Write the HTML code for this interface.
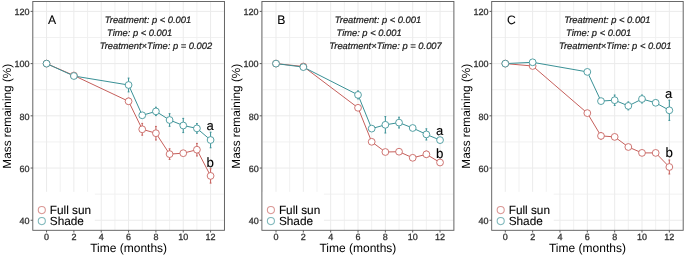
<!DOCTYPE html>
<html><head><meta charset="utf-8"><style>
html,body{margin:0;padding:0;background:#fff;}
body{width:685px;height:256px;overflow:hidden;}
svg{display:block;will-change:transform;}
text{font-family:"Liberation Sans",sans-serif;text-rendering:geometricPrecision;}
</style></head><body>
<svg width="685" height="256" viewBox="0 0 685 256">
<rect x="0" y="0" width="685" height="256" fill="#fff"/>

<line x1="32.88" y1="1.5" x2="32.88" y2="230.3" stroke="#efefef" stroke-width="0.9"/>
<line x1="60.22" y1="1.5" x2="60.22" y2="230.3" stroke="#efefef" stroke-width="0.9"/>
<line x1="87.56" y1="1.5" x2="87.56" y2="230.3" stroke="#efefef" stroke-width="0.9"/>
<line x1="114.9" y1="1.5" x2="114.9" y2="230.3" stroke="#efefef" stroke-width="0.9"/>
<line x1="142.24" y1="1.5" x2="142.24" y2="230.3" stroke="#efefef" stroke-width="0.9"/>
<line x1="169.58" y1="1.5" x2="169.58" y2="230.3" stroke="#efefef" stroke-width="0.9"/>
<line x1="196.92" y1="1.5" x2="196.92" y2="230.3" stroke="#efefef" stroke-width="0.9"/>
<line x1="224.26" y1="1.5" x2="224.26" y2="230.3" stroke="#efefef" stroke-width="0.9"/>
<line x1="32.8" y1="194.15" x2="224.5" y2="194.15" stroke="#efefef" stroke-width="0.9"/>
<line x1="32.8" y1="141.93" x2="224.5" y2="141.93" stroke="#efefef" stroke-width="0.9"/>
<line x1="32.8" y1="89.71" x2="224.5" y2="89.71" stroke="#efefef" stroke-width="0.9"/>
<line x1="32.8" y1="37.49" x2="224.5" y2="37.49" stroke="#efefef" stroke-width="0.9"/>
<line x1="46.55" y1="1.5" x2="46.55" y2="230.3" stroke="#ebebeb" stroke-width="1"/>
<line x1="73.89" y1="1.5" x2="73.89" y2="230.3" stroke="#ebebeb" stroke-width="1"/>
<line x1="101.23" y1="1.5" x2="101.23" y2="230.3" stroke="#ebebeb" stroke-width="1"/>
<line x1="128.57" y1="1.5" x2="128.57" y2="230.3" stroke="#ebebeb" stroke-width="1"/>
<line x1="155.91" y1="1.5" x2="155.91" y2="230.3" stroke="#ebebeb" stroke-width="1"/>
<line x1="183.25" y1="1.5" x2="183.25" y2="230.3" stroke="#ebebeb" stroke-width="1"/>
<line x1="210.59" y1="1.5" x2="210.59" y2="230.3" stroke="#ebebeb" stroke-width="1"/>
<line x1="32.8" y1="220.26" x2="224.5" y2="220.26" stroke="#ebebeb" stroke-width="1"/>
<line x1="32.8" y1="168.04" x2="224.5" y2="168.04" stroke="#ebebeb" stroke-width="1"/>
<line x1="32.8" y1="115.82" x2="224.5" y2="115.82" stroke="#ebebeb" stroke-width="1"/>
<line x1="32.8" y1="63.6" x2="224.5" y2="63.6" stroke="#ebebeb" stroke-width="1"/>
<line x1="32.8" y1="11.38" x2="224.5" y2="11.38" stroke="#ebebeb" stroke-width="1"/>
<rect x="32.8" y="191.8" width="62" height="38.5" fill="#fff"/>
<path d="M46.55,63.6 L73.89,75.5 L128.57,101.3 L142.24,129.3 L155.91,133.2 L169.58,154.1 L183.25,153.2 L196.92,149.7 L210.59,175.9" fill="none" stroke="#c65f5b" stroke-width="1"/>
<path d="M46.55,63.6 L73.89,76 L128.57,85 L142.24,115.3 L155.91,111.4 L169.58,120 L183.25,125.5 L196.92,128.4 L210.59,140" fill="none" stroke="#3a9196" stroke-width="1"/>
<path d="M128.57,98.2V104.4M127.67,98.2H129.47M127.67,104.4H129.47" stroke="#c65f5b" stroke-width="1.0" fill="none"/>
<path d="M142.24,123.4V135.2M141.34,123.4H143.14M141.34,135.2H143.14" stroke="#c65f5b" stroke-width="1.0" fill="none"/>
<path d="M155.91,126.4V140M155.01,126.4H156.81M155.01,140H156.81" stroke="#c65f5b" stroke-width="1.0" fill="none"/>
<path d="M169.58,148.8V159.4M168.68,148.8H170.48M168.68,159.4H170.48" stroke="#c65f5b" stroke-width="1.0" fill="none"/>
<path d="M183.25,152.1V154.3M182.35,152.1H184.15M182.35,154.3H184.15" stroke="#c65f5b" stroke-width="1.0" fill="none"/>
<path d="M196.92,143.4V156M196.02,143.4H197.82M196.02,156H197.82" stroke="#c65f5b" stroke-width="1.0" fill="none"/>
<path d="M210.59,168.7V183.1M209.69,168.7H211.49M209.69,183.1H211.49" stroke="#c65f5b" stroke-width="1.0" fill="none"/>
<path d="M128.57,78.1V91.9M127.67,78.1H129.47M127.67,91.9H129.47" stroke="#3a9196" stroke-width="1.0" fill="none"/>
<path d="M142.24,113.7V116.9M141.34,113.7H143.14M141.34,116.9H143.14" stroke="#3a9196" stroke-width="1.0" fill="none"/>
<path d="M155.91,107.2V115.6M155.01,107.2H156.81M155.01,115.6H156.81" stroke="#3a9196" stroke-width="1.0" fill="none"/>
<path d="M169.58,113.7V126.3M168.68,113.7H170.48M168.68,126.3H170.48" stroke="#3a9196" stroke-width="1.0" fill="none"/>
<path d="M183.25,118.4V132.6M182.35,118.4H184.15M182.35,132.6H184.15" stroke="#3a9196" stroke-width="1.0" fill="none"/>
<path d="M196.92,123.6V133.2M196.02,123.6H197.82M196.02,133.2H197.82" stroke="#3a9196" stroke-width="1.0" fill="none"/>
<path d="M210.59,132.2V147.8M209.69,132.2H211.49M209.69,147.8H211.49" stroke="#3a9196" stroke-width="1.0" fill="none"/>
<circle cx="46.55" cy="63.6" r="3.4" fill="#fff" stroke="#c65f5b" stroke-width="0.85"/>
<circle cx="73.89" cy="75.5" r="3.4" fill="#fff" stroke="#c65f5b" stroke-width="0.85"/>
<circle cx="128.57" cy="101.3" r="3.4" fill="#fff" stroke="#c65f5b" stroke-width="0.85"/>
<circle cx="142.24" cy="129.3" r="3.4" fill="#fff" stroke="#c65f5b" stroke-width="0.85"/>
<circle cx="155.91" cy="133.2" r="3.4" fill="#fff" stroke="#c65f5b" stroke-width="0.85"/>
<circle cx="169.58" cy="154.1" r="3.4" fill="#fff" stroke="#c65f5b" stroke-width="0.85"/>
<circle cx="183.25" cy="153.2" r="3.4" fill="#fff" stroke="#c65f5b" stroke-width="0.85"/>
<circle cx="196.92" cy="149.7" r="3.4" fill="#fff" stroke="#c65f5b" stroke-width="0.85"/>
<circle cx="210.59" cy="175.9" r="3.4" fill="#fff" stroke="#c65f5b" stroke-width="0.85"/>
<circle cx="46.55" cy="63.6" r="3.4" fill="#fff" stroke="#3a9196" stroke-width="0.85"/>
<circle cx="73.89" cy="76" r="3.4" fill="#fff" stroke="#3a9196" stroke-width="0.85"/>
<circle cx="128.57" cy="85" r="3.4" fill="#fff" stroke="#3a9196" stroke-width="0.85"/>
<circle cx="142.24" cy="115.3" r="3.4" fill="#fff" stroke="#3a9196" stroke-width="0.85"/>
<circle cx="155.91" cy="111.4" r="3.4" fill="#fff" stroke="#3a9196" stroke-width="0.85"/>
<circle cx="169.58" cy="120" r="3.4" fill="#fff" stroke="#3a9196" stroke-width="0.85"/>
<circle cx="183.25" cy="125.5" r="3.4" fill="#fff" stroke="#3a9196" stroke-width="0.85"/>
<circle cx="196.92" cy="128.4" r="3.4" fill="#fff" stroke="#3a9196" stroke-width="0.85"/>
<circle cx="210.59" cy="140" r="3.4" fill="#fff" stroke="#3a9196" stroke-width="0.85"/>
<rect x="32.8" y="1.5" width="191.7" height="228.8" fill="none" stroke="#5a5a5a" stroke-width="0.9"/>
<line x1="30.6" y1="220.26" x2="32.8" y2="220.26" stroke="#5a5a5a" stroke-width="1"/>
<text x="29.55" y="224.06" font-size="9" fill="#333333" stroke="#333333" stroke-width="0.3" text-anchor="end">40</text>
<line x1="30.6" y1="168.04" x2="32.8" y2="168.04" stroke="#5a5a5a" stroke-width="1"/>
<text x="29.55" y="171.84" font-size="9" fill="#333333" stroke="#333333" stroke-width="0.3" text-anchor="end">60</text>
<line x1="30.6" y1="115.82" x2="32.8" y2="115.82" stroke="#5a5a5a" stroke-width="1"/>
<text x="29.55" y="119.62" font-size="9" fill="#333333" stroke="#333333" stroke-width="0.3" text-anchor="end">80</text>
<line x1="30.6" y1="63.6" x2="32.8" y2="63.6" stroke="#5a5a5a" stroke-width="1"/>
<text x="29.55" y="67.4" font-size="9" fill="#333333" stroke="#333333" stroke-width="0.3" text-anchor="end">100</text>
<line x1="30.6" y1="11.38" x2="32.8" y2="11.38" stroke="#5a5a5a" stroke-width="1"/>
<text x="29.55" y="15.18" font-size="9" fill="#333333" stroke="#333333" stroke-width="0.3" text-anchor="end">120</text>
<line x1="46.55" y1="230.3" x2="46.55" y2="232.5" stroke="#5a5a5a" stroke-width="1"/>
<text x="46.55" y="240.1" font-size="9" fill="#333333" stroke="#333333" stroke-width="0.3" text-anchor="middle">0</text>
<line x1="73.89" y1="230.3" x2="73.89" y2="232.5" stroke="#5a5a5a" stroke-width="1"/>
<text x="73.89" y="240.1" font-size="9" fill="#333333" stroke="#333333" stroke-width="0.3" text-anchor="middle">2</text>
<line x1="101.23" y1="230.3" x2="101.23" y2="232.5" stroke="#5a5a5a" stroke-width="1"/>
<text x="101.23" y="240.1" font-size="9" fill="#333333" stroke="#333333" stroke-width="0.3" text-anchor="middle">4</text>
<line x1="128.57" y1="230.3" x2="128.57" y2="232.5" stroke="#5a5a5a" stroke-width="1"/>
<text x="128.57" y="240.1" font-size="9" fill="#333333" stroke="#333333" stroke-width="0.3" text-anchor="middle">6</text>
<line x1="155.91" y1="230.3" x2="155.91" y2="232.5" stroke="#5a5a5a" stroke-width="1"/>
<text x="155.91" y="240.1" font-size="9" fill="#333333" stroke="#333333" stroke-width="0.3" text-anchor="middle">8</text>
<line x1="183.25" y1="230.3" x2="183.25" y2="232.5" stroke="#5a5a5a" stroke-width="1"/>
<text x="183.25" y="240.1" font-size="9" fill="#333333" stroke="#333333" stroke-width="0.3" text-anchor="middle">10</text>
<line x1="210.59" y1="230.3" x2="210.59" y2="232.5" stroke="#5a5a5a" stroke-width="1"/>
<text x="210.59" y="240.1" font-size="9" fill="#333333" stroke="#333333" stroke-width="0.3" text-anchor="middle">12</text>
<text x="128.65" y="252" font-size="12" text-anchor="middle">Time (months)</text>
<text transform="translate(10.6,116.2) rotate(-90)" x="0" y="0" font-size="11.8" text-anchor="middle">Mass remaining (%)</text>
<text x="48.1" y="23.8" font-size="12.2" stroke="#000" stroke-width="0.08">A</text>
<text x="104.8" y="23.1" font-size="9.35" font-style="italic" fill="#1a1a1a" stroke="#1a1a1a" stroke-width="0.22">Treatment: p &lt; 0.001</text>
<text x="107.1" y="36.1" font-size="9.35" font-style="italic" fill="#1a1a1a" stroke="#1a1a1a" stroke-width="0.22">Time: p &lt; 0.001</text>
<text x="99.7" y="49.1" font-size="9.35" font-style="italic" fill="#1a1a1a" stroke="#1a1a1a" stroke-width="0.22">Treatment×Time: p = 0.002</text>
<text x="210.2" y="129.7" font-size="13" text-anchor="middle" stroke="#000" stroke-width="0.12">a</text>
<text x="210.1" y="167.2" font-size="13.3" text-anchor="middle" stroke="#000" stroke-width="0.12">b</text>
<circle cx="41.8" cy="210.1" r="3.55" fill="#fff" stroke="#c65f5b" stroke-width="1.05" opacity="0.65"/>
<circle cx="41.8" cy="221.1" r="3.55" fill="#fff" stroke="#3a9196" stroke-width="1.05" opacity="0.65"/>
<text x="49.8" y="214.1" font-size="11.8" stroke="#000" stroke-width="0.1">Full sun</text>
<text x="49.8" y="225.3" font-size="11.8" stroke="#000" stroke-width="0.1">Shade</text>
<line x1="262.33" y1="1.5" x2="262.33" y2="230.3" stroke="#efefef" stroke-width="0.9"/>
<line x1="289.67" y1="1.5" x2="289.67" y2="230.3" stroke="#efefef" stroke-width="0.9"/>
<line x1="317.01" y1="1.5" x2="317.01" y2="230.3" stroke="#efefef" stroke-width="0.9"/>
<line x1="344.35" y1="1.5" x2="344.35" y2="230.3" stroke="#efefef" stroke-width="0.9"/>
<line x1="371.69" y1="1.5" x2="371.69" y2="230.3" stroke="#efefef" stroke-width="0.9"/>
<line x1="399.03" y1="1.5" x2="399.03" y2="230.3" stroke="#efefef" stroke-width="0.9"/>
<line x1="426.37" y1="1.5" x2="426.37" y2="230.3" stroke="#efefef" stroke-width="0.9"/>
<line x1="453.71" y1="1.5" x2="453.71" y2="230.3" stroke="#efefef" stroke-width="0.9"/>
<line x1="261.9" y1="194.15" x2="453.9" y2="194.15" stroke="#efefef" stroke-width="0.9"/>
<line x1="261.9" y1="141.93" x2="453.9" y2="141.93" stroke="#efefef" stroke-width="0.9"/>
<line x1="261.9" y1="89.71" x2="453.9" y2="89.71" stroke="#efefef" stroke-width="0.9"/>
<line x1="261.9" y1="37.49" x2="453.9" y2="37.49" stroke="#efefef" stroke-width="0.9"/>
<line x1="276" y1="1.5" x2="276" y2="230.3" stroke="#ebebeb" stroke-width="1"/>
<line x1="303.34" y1="1.5" x2="303.34" y2="230.3" stroke="#ebebeb" stroke-width="1"/>
<line x1="330.68" y1="1.5" x2="330.68" y2="230.3" stroke="#ebebeb" stroke-width="1"/>
<line x1="358.02" y1="1.5" x2="358.02" y2="230.3" stroke="#ebebeb" stroke-width="1"/>
<line x1="385.36" y1="1.5" x2="385.36" y2="230.3" stroke="#ebebeb" stroke-width="1"/>
<line x1="412.7" y1="1.5" x2="412.7" y2="230.3" stroke="#ebebeb" stroke-width="1"/>
<line x1="440.04" y1="1.5" x2="440.04" y2="230.3" stroke="#ebebeb" stroke-width="1"/>
<line x1="261.9" y1="220.26" x2="453.9" y2="220.26" stroke="#ebebeb" stroke-width="1"/>
<line x1="261.9" y1="168.04" x2="453.9" y2="168.04" stroke="#ebebeb" stroke-width="1"/>
<line x1="261.9" y1="115.82" x2="453.9" y2="115.82" stroke="#ebebeb" stroke-width="1"/>
<line x1="261.9" y1="63.6" x2="453.9" y2="63.6" stroke="#ebebeb" stroke-width="1"/>
<line x1="261.9" y1="11.38" x2="453.9" y2="11.38" stroke="#ebebeb" stroke-width="1"/>
<rect x="261.9" y="191.8" width="62" height="38.5" fill="#fff"/>
<path d="M276,63.6 L303.34,66.5 L358.02,107.8 L371.69,141.8 L385.36,152 L399.03,151.7 L412.7,157.8 L426.37,154.3 L440.04,162.5" fill="none" stroke="#c65f5b" stroke-width="1"/>
<path d="M276,63.6 L303.34,67.1 L358.02,94.9 L371.69,128.6 L385.36,124.8 L399.03,122.6 L412.7,128 L426.37,134.4 L440.04,140.1" fill="none" stroke="#3a9196" stroke-width="1"/>
<path d="M358.02,106.2V109.4M357.12,106.2H358.92M357.12,109.4H358.92" stroke="#c65f5b" stroke-width="1.0" fill="none"/>
<path d="M371.69,140.2V143.4M370.79,140.2H372.59M370.79,143.4H372.59" stroke="#c65f5b" stroke-width="1.0" fill="none"/>
<path d="M385.36,150.4V153.6M384.46,150.4H386.26M384.46,153.6H386.26" stroke="#c65f5b" stroke-width="1.0" fill="none"/>
<path d="M399.03,150.1V153.3M398.13,150.1H399.93M398.13,153.3H399.93" stroke="#c65f5b" stroke-width="1.0" fill="none"/>
<path d="M412.7,156.2V159.4M411.8,156.2H413.6M411.8,159.4H413.6" stroke="#c65f5b" stroke-width="1.0" fill="none"/>
<path d="M426.37,151.2V157.4M425.47,151.2H427.27M425.47,157.4H427.27" stroke="#c65f5b" stroke-width="1.0" fill="none"/>
<path d="M440.04,160.9V164.1M439.14,160.9H440.94M439.14,164.1H440.94" stroke="#c65f5b" stroke-width="1.0" fill="none"/>
<path d="M358.02,90.9V98.9M357.12,90.9H358.92M357.12,98.9H358.92" stroke="#3a9196" stroke-width="1.0" fill="none"/>
<path d="M371.69,127V130.2M370.79,127H372.59M370.79,130.2H372.59" stroke="#3a9196" stroke-width="1.0" fill="none"/>
<path d="M385.36,116.6V133M384.46,116.6H386.26M384.46,133H386.26" stroke="#3a9196" stroke-width="1.0" fill="none"/>
<path d="M399.03,117.2V128M398.13,117.2H399.93M398.13,128H399.93" stroke="#3a9196" stroke-width="1.0" fill="none"/>
<path d="M412.7,126.4V129.6M411.8,126.4H413.6M411.8,129.6H413.6" stroke="#3a9196" stroke-width="1.0" fill="none"/>
<path d="M426.37,128.8V140M425.47,128.8H427.27M425.47,140H427.27" stroke="#3a9196" stroke-width="1.0" fill="none"/>
<path d="M440.04,138.5V141.7M439.14,138.5H440.94M439.14,141.7H440.94" stroke="#3a9196" stroke-width="1.0" fill="none"/>
<circle cx="276" cy="63.6" r="3.4" fill="#fff" stroke="#c65f5b" stroke-width="0.85"/>
<circle cx="303.34" cy="66.5" r="3.4" fill="#fff" stroke="#c65f5b" stroke-width="0.85"/>
<circle cx="358.02" cy="107.8" r="3.4" fill="#fff" stroke="#c65f5b" stroke-width="0.85"/>
<circle cx="371.69" cy="141.8" r="3.4" fill="#fff" stroke="#c65f5b" stroke-width="0.85"/>
<circle cx="385.36" cy="152" r="3.4" fill="#fff" stroke="#c65f5b" stroke-width="0.85"/>
<circle cx="399.03" cy="151.7" r="3.4" fill="#fff" stroke="#c65f5b" stroke-width="0.85"/>
<circle cx="412.7" cy="157.8" r="3.4" fill="#fff" stroke="#c65f5b" stroke-width="0.85"/>
<circle cx="426.37" cy="154.3" r="3.4" fill="#fff" stroke="#c65f5b" stroke-width="0.85"/>
<circle cx="440.04" cy="162.5" r="3.4" fill="#fff" stroke="#c65f5b" stroke-width="0.85"/>
<circle cx="276" cy="63.6" r="3.4" fill="#fff" stroke="#3a9196" stroke-width="0.85"/>
<circle cx="303.34" cy="67.1" r="3.4" fill="#fff" stroke="#3a9196" stroke-width="0.85"/>
<circle cx="358.02" cy="94.9" r="3.4" fill="#fff" stroke="#3a9196" stroke-width="0.85"/>
<circle cx="371.69" cy="128.6" r="3.4" fill="#fff" stroke="#3a9196" stroke-width="0.85"/>
<circle cx="385.36" cy="124.8" r="3.4" fill="#fff" stroke="#3a9196" stroke-width="0.85"/>
<circle cx="399.03" cy="122.6" r="3.4" fill="#fff" stroke="#3a9196" stroke-width="0.85"/>
<circle cx="412.7" cy="128" r="3.4" fill="#fff" stroke="#3a9196" stroke-width="0.85"/>
<circle cx="426.37" cy="134.4" r="3.4" fill="#fff" stroke="#3a9196" stroke-width="0.85"/>
<circle cx="440.04" cy="140.1" r="3.4" fill="#fff" stroke="#3a9196" stroke-width="0.85"/>
<rect x="261.9" y="1.5" width="192" height="228.8" fill="none" stroke="#5a5a5a" stroke-width="0.9"/>
<line x1="259.7" y1="220.26" x2="261.9" y2="220.26" stroke="#5a5a5a" stroke-width="1"/>
<text x="258.65" y="224.06" font-size="9" fill="#333333" stroke="#333333" stroke-width="0.3" text-anchor="end">40</text>
<line x1="259.7" y1="168.04" x2="261.9" y2="168.04" stroke="#5a5a5a" stroke-width="1"/>
<text x="258.65" y="171.84" font-size="9" fill="#333333" stroke="#333333" stroke-width="0.3" text-anchor="end">60</text>
<line x1="259.7" y1="115.82" x2="261.9" y2="115.82" stroke="#5a5a5a" stroke-width="1"/>
<text x="258.65" y="119.62" font-size="9" fill="#333333" stroke="#333333" stroke-width="0.3" text-anchor="end">80</text>
<line x1="259.7" y1="63.6" x2="261.9" y2="63.6" stroke="#5a5a5a" stroke-width="1"/>
<text x="258.65" y="67.4" font-size="9" fill="#333333" stroke="#333333" stroke-width="0.3" text-anchor="end">100</text>
<line x1="259.7" y1="11.38" x2="261.9" y2="11.38" stroke="#5a5a5a" stroke-width="1"/>
<text x="258.65" y="15.18" font-size="9" fill="#333333" stroke="#333333" stroke-width="0.3" text-anchor="end">120</text>
<line x1="276" y1="230.3" x2="276" y2="232.5" stroke="#5a5a5a" stroke-width="1"/>
<text x="276" y="240.1" font-size="9" fill="#333333" stroke="#333333" stroke-width="0.3" text-anchor="middle">0</text>
<line x1="303.34" y1="230.3" x2="303.34" y2="232.5" stroke="#5a5a5a" stroke-width="1"/>
<text x="303.34" y="240.1" font-size="9" fill="#333333" stroke="#333333" stroke-width="0.3" text-anchor="middle">2</text>
<line x1="330.68" y1="230.3" x2="330.68" y2="232.5" stroke="#5a5a5a" stroke-width="1"/>
<text x="330.68" y="240.1" font-size="9" fill="#333333" stroke="#333333" stroke-width="0.3" text-anchor="middle">4</text>
<line x1="358.02" y1="230.3" x2="358.02" y2="232.5" stroke="#5a5a5a" stroke-width="1"/>
<text x="358.02" y="240.1" font-size="9" fill="#333333" stroke="#333333" stroke-width="0.3" text-anchor="middle">6</text>
<line x1="385.36" y1="230.3" x2="385.36" y2="232.5" stroke="#5a5a5a" stroke-width="1"/>
<text x="385.36" y="240.1" font-size="9" fill="#333333" stroke="#333333" stroke-width="0.3" text-anchor="middle">8</text>
<line x1="412.7" y1="230.3" x2="412.7" y2="232.5" stroke="#5a5a5a" stroke-width="1"/>
<text x="412.7" y="240.1" font-size="9" fill="#333333" stroke="#333333" stroke-width="0.3" text-anchor="middle">10</text>
<line x1="440.04" y1="230.3" x2="440.04" y2="232.5" stroke="#5a5a5a" stroke-width="1"/>
<text x="440.04" y="240.1" font-size="9" fill="#333333" stroke="#333333" stroke-width="0.3" text-anchor="middle">12</text>
<text x="357.9" y="252" font-size="12" text-anchor="middle">Time (months)</text>
<text transform="translate(239.7,116.2) rotate(-90)" x="0" y="0" font-size="11.8" text-anchor="middle">Mass remaining (%)</text>
<text x="277.2" y="23.8" font-size="12.2" stroke="#000" stroke-width="0.08">B</text>
<text x="334.8" y="23.1" font-size="9.35" font-style="italic" fill="#1a1a1a" stroke="#1a1a1a" stroke-width="0.22">Treatment: p &lt; 0.001</text>
<text x="336.5" y="36.1" font-size="9.35" font-style="italic" fill="#1a1a1a" stroke="#1a1a1a" stroke-width="0.22">Time: p &lt; 0.001</text>
<text x="329.3" y="49.1" font-size="9.35" font-style="italic" fill="#1a1a1a" stroke="#1a1a1a" stroke-width="0.22">Treatment×Time: p = 0.007</text>
<text x="439.5" y="134.7" font-size="13" text-anchor="middle" stroke="#000" stroke-width="0.12">a</text>
<text x="439.8" y="157.5" font-size="13.3" text-anchor="middle" stroke="#000" stroke-width="0.12">b</text>
<circle cx="270.9" cy="210.1" r="3.55" fill="#fff" stroke="#c65f5b" stroke-width="1.05" opacity="0.65"/>
<circle cx="270.9" cy="221.1" r="3.55" fill="#fff" stroke="#3a9196" stroke-width="1.05" opacity="0.65"/>
<text x="278.9" y="214.1" font-size="11.8" stroke="#000" stroke-width="0.1">Full sun</text>
<text x="278.9" y="225.3" font-size="11.8" stroke="#000" stroke-width="0.1">Shade</text>
<line x1="518.97" y1="1.5" x2="518.97" y2="230.3" stroke="#efefef" stroke-width="0.9"/>
<line x1="546.31" y1="1.5" x2="546.31" y2="230.3" stroke="#efefef" stroke-width="0.9"/>
<line x1="573.65" y1="1.5" x2="573.65" y2="230.3" stroke="#efefef" stroke-width="0.9"/>
<line x1="600.99" y1="1.5" x2="600.99" y2="230.3" stroke="#efefef" stroke-width="0.9"/>
<line x1="628.33" y1="1.5" x2="628.33" y2="230.3" stroke="#efefef" stroke-width="0.9"/>
<line x1="655.67" y1="1.5" x2="655.67" y2="230.3" stroke="#efefef" stroke-width="0.9"/>
<line x1="683.01" y1="1.5" x2="683.01" y2="230.3" stroke="#efefef" stroke-width="0.9"/>
<line x1="491.7" y1="194.15" x2="683.2" y2="194.15" stroke="#efefef" stroke-width="0.9"/>
<line x1="491.7" y1="141.93" x2="683.2" y2="141.93" stroke="#efefef" stroke-width="0.9"/>
<line x1="491.7" y1="89.71" x2="683.2" y2="89.71" stroke="#efefef" stroke-width="0.9"/>
<line x1="491.7" y1="37.49" x2="683.2" y2="37.49" stroke="#efefef" stroke-width="0.9"/>
<line x1="505.3" y1="1.5" x2="505.3" y2="230.3" stroke="#ebebeb" stroke-width="1"/>
<line x1="532.64" y1="1.5" x2="532.64" y2="230.3" stroke="#ebebeb" stroke-width="1"/>
<line x1="559.98" y1="1.5" x2="559.98" y2="230.3" stroke="#ebebeb" stroke-width="1"/>
<line x1="587.32" y1="1.5" x2="587.32" y2="230.3" stroke="#ebebeb" stroke-width="1"/>
<line x1="614.66" y1="1.5" x2="614.66" y2="230.3" stroke="#ebebeb" stroke-width="1"/>
<line x1="642" y1="1.5" x2="642" y2="230.3" stroke="#ebebeb" stroke-width="1"/>
<line x1="669.34" y1="1.5" x2="669.34" y2="230.3" stroke="#ebebeb" stroke-width="1"/>
<line x1="491.7" y1="220.26" x2="683.2" y2="220.26" stroke="#ebebeb" stroke-width="1"/>
<line x1="491.7" y1="168.04" x2="683.2" y2="168.04" stroke="#ebebeb" stroke-width="1"/>
<line x1="491.7" y1="115.82" x2="683.2" y2="115.82" stroke="#ebebeb" stroke-width="1"/>
<line x1="491.7" y1="63.6" x2="683.2" y2="63.6" stroke="#ebebeb" stroke-width="1"/>
<line x1="491.7" y1="11.38" x2="683.2" y2="11.38" stroke="#ebebeb" stroke-width="1"/>
<rect x="491.7" y="191.8" width="62" height="38.5" fill="#fff"/>
<path d="M505.3,63.6 L532.64,66 L587.32,113.1 L600.99,135.9 L614.66,136.9 L628.33,147 L642,152.9 L655.67,152.9 L669.34,167" fill="none" stroke="#c65f5b" stroke-width="1"/>
<path d="M505.3,63.6 L532.64,62.3 L587.32,71.9 L600.99,101.1 L614.66,100.2 L628.33,105.9 L642,99 L655.67,102.8 L669.34,110.3" fill="none" stroke="#3a9196" stroke-width="1"/>
<path d="M587.32,111.5V114.7M586.42,111.5H588.22M586.42,114.7H588.22" stroke="#c65f5b" stroke-width="1.0" fill="none"/>
<path d="M600.99,132.8V139M600.09,132.8H601.89M600.09,139H601.89" stroke="#c65f5b" stroke-width="1.0" fill="none"/>
<path d="M614.66,135.3V138.5M613.76,135.3H615.56M613.76,138.5H615.56" stroke="#c65f5b" stroke-width="1.0" fill="none"/>
<path d="M628.33,145.4V148.6M627.43,145.4H629.23M627.43,148.6H629.23" stroke="#c65f5b" stroke-width="1.0" fill="none"/>
<path d="M642,151.3V154.5M641.1,151.3H642.9M641.1,154.5H642.9" stroke="#c65f5b" stroke-width="1.0" fill="none"/>
<path d="M655.67,151.3V154.5M654.77,151.3H656.57M654.77,154.5H656.57" stroke="#c65f5b" stroke-width="1.0" fill="none"/>
<path d="M669.34,160V174M668.44,160H670.24M668.44,174H670.24" stroke="#c65f5b" stroke-width="1.0" fill="none"/>
<path d="M587.32,70.3V73.5M586.42,70.3H588.22M586.42,73.5H588.22" stroke="#3a9196" stroke-width="1.0" fill="none"/>
<path d="M600.99,99.5V102.7M600.09,99.5H601.89M600.09,102.7H601.89" stroke="#3a9196" stroke-width="1.0" fill="none"/>
<path d="M614.66,95V105.4M613.76,95H615.56M613.76,105.4H615.56" stroke="#3a9196" stroke-width="1.0" fill="none"/>
<path d="M628.33,101.9V109.9M627.43,101.9H629.23M627.43,109.9H629.23" stroke="#3a9196" stroke-width="1.0" fill="none"/>
<path d="M642,95V103M641.1,95H642.9M641.1,103H642.9" stroke="#3a9196" stroke-width="1.0" fill="none"/>
<path d="M655.67,100.2V105.4M654.77,100.2H656.57M654.77,105.4H656.57" stroke="#3a9196" stroke-width="1.0" fill="none"/>
<path d="M669.34,100.2V120.4M668.44,100.2H670.24M668.44,120.4H670.24" stroke="#3a9196" stroke-width="1.0" fill="none"/>
<circle cx="505.3" cy="63.6" r="3.4" fill="#fff" stroke="#c65f5b" stroke-width="0.85"/>
<circle cx="532.64" cy="66" r="3.4" fill="#fff" stroke="#c65f5b" stroke-width="0.85"/>
<circle cx="587.32" cy="113.1" r="3.4" fill="#fff" stroke="#c65f5b" stroke-width="0.85"/>
<circle cx="600.99" cy="135.9" r="3.4" fill="#fff" stroke="#c65f5b" stroke-width="0.85"/>
<circle cx="614.66" cy="136.9" r="3.4" fill="#fff" stroke="#c65f5b" stroke-width="0.85"/>
<circle cx="628.33" cy="147" r="3.4" fill="#fff" stroke="#c65f5b" stroke-width="0.85"/>
<circle cx="642" cy="152.9" r="3.4" fill="#fff" stroke="#c65f5b" stroke-width="0.85"/>
<circle cx="655.67" cy="152.9" r="3.4" fill="#fff" stroke="#c65f5b" stroke-width="0.85"/>
<circle cx="669.34" cy="167" r="3.4" fill="#fff" stroke="#c65f5b" stroke-width="0.85"/>
<circle cx="505.3" cy="63.6" r="3.4" fill="#fff" stroke="#3a9196" stroke-width="0.85"/>
<circle cx="532.64" cy="62.3" r="3.4" fill="#fff" stroke="#3a9196" stroke-width="0.85"/>
<circle cx="587.32" cy="71.9" r="3.4" fill="#fff" stroke="#3a9196" stroke-width="0.85"/>
<circle cx="600.99" cy="101.1" r="3.4" fill="#fff" stroke="#3a9196" stroke-width="0.85"/>
<circle cx="614.66" cy="100.2" r="3.4" fill="#fff" stroke="#3a9196" stroke-width="0.85"/>
<circle cx="628.33" cy="105.9" r="3.4" fill="#fff" stroke="#3a9196" stroke-width="0.85"/>
<circle cx="642" cy="99" r="3.4" fill="#fff" stroke="#3a9196" stroke-width="0.85"/>
<circle cx="655.67" cy="102.8" r="3.4" fill="#fff" stroke="#3a9196" stroke-width="0.85"/>
<circle cx="669.34" cy="110.3" r="3.4" fill="#fff" stroke="#3a9196" stroke-width="0.85"/>
<rect x="491.7" y="1.5" width="191.5" height="228.8" fill="none" stroke="#5a5a5a" stroke-width="0.9"/>
<line x1="489.5" y1="220.26" x2="491.7" y2="220.26" stroke="#5a5a5a" stroke-width="1"/>
<text x="488.45" y="224.06" font-size="9" fill="#333333" stroke="#333333" stroke-width="0.3" text-anchor="end">40</text>
<line x1="489.5" y1="168.04" x2="491.7" y2="168.04" stroke="#5a5a5a" stroke-width="1"/>
<text x="488.45" y="171.84" font-size="9" fill="#333333" stroke="#333333" stroke-width="0.3" text-anchor="end">60</text>
<line x1="489.5" y1="115.82" x2="491.7" y2="115.82" stroke="#5a5a5a" stroke-width="1"/>
<text x="488.45" y="119.62" font-size="9" fill="#333333" stroke="#333333" stroke-width="0.3" text-anchor="end">80</text>
<line x1="489.5" y1="63.6" x2="491.7" y2="63.6" stroke="#5a5a5a" stroke-width="1"/>
<text x="488.45" y="67.4" font-size="9" fill="#333333" stroke="#333333" stroke-width="0.3" text-anchor="end">100</text>
<line x1="489.5" y1="11.38" x2="491.7" y2="11.38" stroke="#5a5a5a" stroke-width="1"/>
<text x="488.45" y="15.18" font-size="9" fill="#333333" stroke="#333333" stroke-width="0.3" text-anchor="end">120</text>
<line x1="505.3" y1="230.3" x2="505.3" y2="232.5" stroke="#5a5a5a" stroke-width="1"/>
<text x="505.3" y="240.1" font-size="9" fill="#333333" stroke="#333333" stroke-width="0.3" text-anchor="middle">0</text>
<line x1="532.64" y1="230.3" x2="532.64" y2="232.5" stroke="#5a5a5a" stroke-width="1"/>
<text x="532.64" y="240.1" font-size="9" fill="#333333" stroke="#333333" stroke-width="0.3" text-anchor="middle">2</text>
<line x1="559.98" y1="230.3" x2="559.98" y2="232.5" stroke="#5a5a5a" stroke-width="1"/>
<text x="559.98" y="240.1" font-size="9" fill="#333333" stroke="#333333" stroke-width="0.3" text-anchor="middle">4</text>
<line x1="587.32" y1="230.3" x2="587.32" y2="232.5" stroke="#5a5a5a" stroke-width="1"/>
<text x="587.32" y="240.1" font-size="9" fill="#333333" stroke="#333333" stroke-width="0.3" text-anchor="middle">6</text>
<line x1="614.66" y1="230.3" x2="614.66" y2="232.5" stroke="#5a5a5a" stroke-width="1"/>
<text x="614.66" y="240.1" font-size="9" fill="#333333" stroke="#333333" stroke-width="0.3" text-anchor="middle">8</text>
<line x1="642" y1="230.3" x2="642" y2="232.5" stroke="#5a5a5a" stroke-width="1"/>
<text x="642" y="240.1" font-size="9" fill="#333333" stroke="#333333" stroke-width="0.3" text-anchor="middle">10</text>
<line x1="669.34" y1="230.3" x2="669.34" y2="232.5" stroke="#5a5a5a" stroke-width="1"/>
<text x="669.34" y="240.1" font-size="9" fill="#333333" stroke="#333333" stroke-width="0.3" text-anchor="middle">12</text>
<text x="587.45" y="252" font-size="12" text-anchor="middle">Time (months)</text>
<text transform="translate(469.5,116.2) rotate(-90)" x="0" y="0" font-size="11.8" text-anchor="middle">Mass remaining (%)</text>
<text x="507" y="23.8" font-size="12.2" stroke="#000" stroke-width="0.08">C</text>
<text x="564.2" y="23.1" font-size="9.35" font-style="italic" fill="#1a1a1a" stroke="#1a1a1a" stroke-width="0.22">Treatment: p &lt; 0.001</text>
<text x="566" y="36.1" font-size="9.35" font-style="italic" fill="#1a1a1a" stroke="#1a1a1a" stroke-width="0.22">Time: p &lt; 0.001</text>
<text x="558.9" y="49.1" font-size="9.35" font-style="italic" fill="#1a1a1a" stroke="#1a1a1a" stroke-width="0.22">Treatment×Time: p &lt; 0.001</text>
<text x="668.6" y="97.7" font-size="13" text-anchor="middle" stroke="#000" stroke-width="0.12">a</text>
<text x="669.3" y="157" font-size="13.3" text-anchor="middle" stroke="#000" stroke-width="0.12">b</text>
<circle cx="500.7" cy="210.1" r="3.55" fill="#fff" stroke="#c65f5b" stroke-width="1.05" opacity="0.65"/>
<circle cx="500.7" cy="221.1" r="3.55" fill="#fff" stroke="#3a9196" stroke-width="1.05" opacity="0.65"/>
<text x="508.7" y="214.1" font-size="11.8" stroke="#000" stroke-width="0.1">Full sun</text>
<text x="508.7" y="225.3" font-size="11.8" stroke="#000" stroke-width="0.1">Shade</text>
</svg>
</body></html>
